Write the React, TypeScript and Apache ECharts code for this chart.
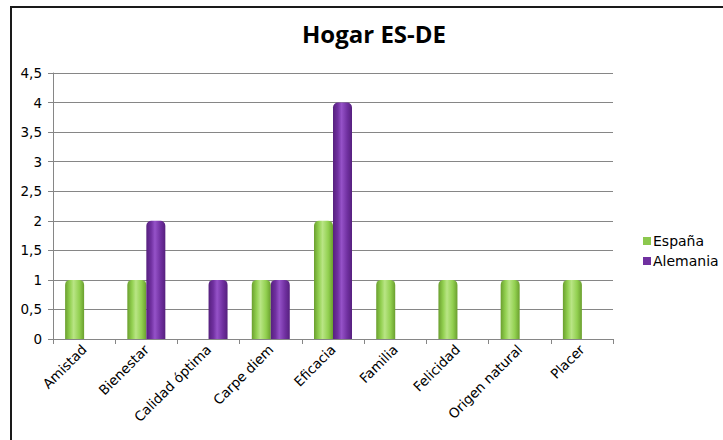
import React, { useEffect, useRef } from "react";
import * as echarts from "echarts";

const categories = [
  "Amistad",
  "Bienestar",
  "Calidad óptima",
  "Carpe diem",
  "Eficacia",
  "Familia",
  "Felicidad",
  "Origen natural",
  "Placer",
];
const espana = [1, 1, 0, 1, 2, 1, 1, 1, 1];
const alemania = [0, 2, 1, 1, 4, 0, 0, 0, 0];
const yTicks = { min: 0, max: 4.5, interval: 0.5 };

const LABEL_FONT = "'DejaVu Sans', 'Open Sans', sans-serif";
const TITLE_FONT = "'Open Sans', Lato, sans-serif";

const cylinder = (edge: string, mid: string, light: string) =>
  new echarts.graphic.LinearGradient(0, 0, 1, 0, [
    { offset: 0, color: edge },
    { offset: 0.25, color: mid },
    { offset: 0.45, color: light },
    { offset: 0.75, color: mid },
    { offset: 1, color: edge },
  ]);

export default function App() {
  const ref = useRef<HTMLDivElement>(null);

  useEffect(() => {
    if (!ref.current) return;
    const chart = echarts.init(ref.current, null, { renderer: "svg" });
    chart.setOption({
      animation: false,
      backgroundColor: "#ffffff",
      title: {
        text: "Hogar ES-DE",
        left: 369,
        textAlign: "center",
        top: 16,
        textStyle: { fontFamily: TITLE_FONT, fontSize: 24, fontWeight: "bold", color: "#000" },
      },
      graphic: [
        {
          type: "rect",
          shape: { x: 11, y: 7, width: 730, height: 450 },
          style: { fill: "none", stroke: "#1a1a1a", lineWidth: 2 },
          silent: true,
        },
      ],
      legend: {
        orient: "vertical",
        left: 638,
        top: 229,
        itemWidth: 8,
        itemHeight: 8,
        itemGap: 6,
        icon: "rect",
        textStyle: { fontFamily: LABEL_FONT, fontSize: 14, color: "#000", padding: [0, 0, 0, -3] },
        data: [
          { name: "España", itemStyle: { color: "#8cc84e" } },
          { name: "Alemania", itemStyle: { color: "#7030a0" } },
        ],
      },
      grid: { left: 53, top: 73, width: 560, height: 266, containLabel: false },
      xAxis: {
        type: "category",
        data: categories,
        axisLine: { show: true, lineStyle: { color: "#868686", width: 1 } },
        axisTick: { show: true, length: 5, alignWithLabel: false, lineStyle: { color: "#868686" } },
        axisLabel: {
          rotate: 45,
          interval: 0,
          margin: 8,
          fontFamily: LABEL_FONT,
          fontSize: 13.5,
          color: "#000",
        },
      },
      yAxis: {
        type: "value",
        min: yTicks.min,
        max: yTicks.max,
        interval: yTicks.interval,
        axisLine: { show: true, lineStyle: { color: "#868686", width: 1 } },
        axisTick: { show: true, length: 5, lineStyle: { color: "#868686" } },
        splitLine: { show: true, lineStyle: { color: "#868686", width: 1 } },
        axisLabel: {
          fontFamily: LABEL_FONT,
          fontSize: 13.5,
          color: "#000",
          margin: 11,
          formatter: (v: number) => String(v).replace(".", ","),
        },
      },
      series: [
        {
          name: "España",
          type: "bar",
          data: espana,
          barWidth: 19,
          barGap: "0%",
          itemStyle: {
            color: cylinder("#6a9f2e", "#92d050", "#b9e585"),
            borderRadius: [5, 5, 0, 0],
          },
        },
        {
          name: "Alemania",
          type: "bar",
          data: alemania,
          barWidth: 19,
          barGap: "0%",
          itemStyle: {
            color: cylinder("#56207e", "#7030a0", "#9552c8"),
            borderRadius: [5, 5, 0, 0],
          },
        },
      ],
    });
    return () => chart.dispose();
  }, []);

  return (
    <div
      ref={ref}
      style={{ position: "fixed", left: 0, top: 0, width: 723, height: 440 }}
    />
  );
}
